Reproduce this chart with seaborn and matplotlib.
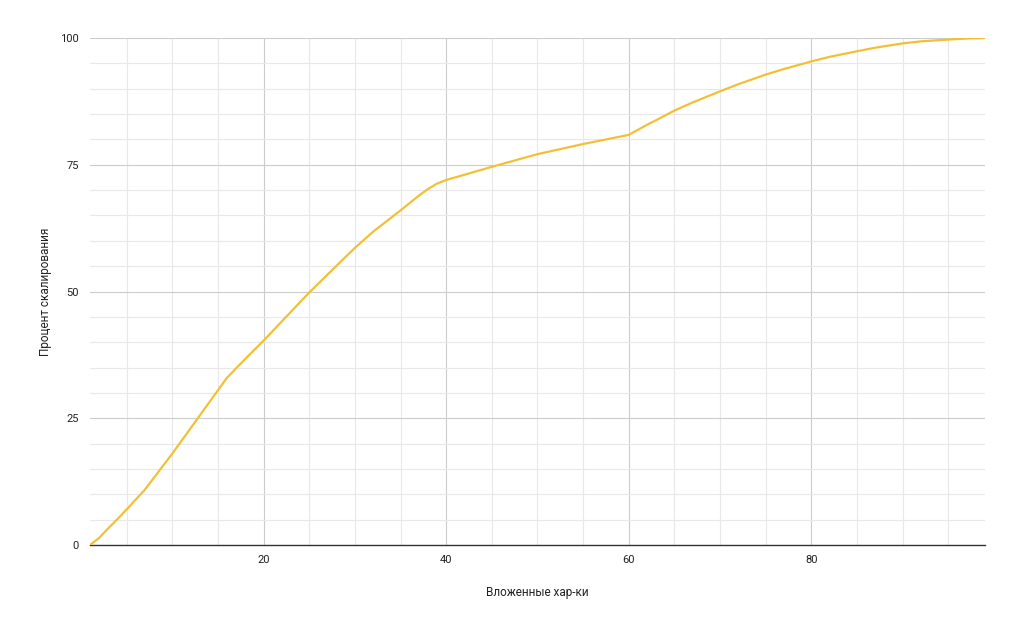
import matplotlib
matplotlib.use('Agg')
import matplotlib.pyplot as plt
import seaborn as sns
import pandas as pd
from matplotlib.ticker import MultipleLocator

# values
features = [1, 2, 3, 4, 5, 7, 10, 13, 15, 16, 18, 20, 25, 28, 30, 32, 35, 37, 38, 39, 40,
            45, 50, 55, 60, 62, 63, 65, 67, 70, 72, 75, 77, 80, 82, 85, 87, 90, 92, 95, 97, 99]
scaling = [0, 1.4, 3.3, 5.1, 7.0, 10.9, 18.0, 25.5, 30.5, 33.0, 36.7, 40.3, 49.8, 55.1,
           58.6, 61.8, 66.0, 68.9, 70.2, 71.3, 72.0, 74.6, 77.1, 79.1, 80.9, 82.9, 83.8,
           85.7, 87.3, 89.5, 90.9, 92.8, 93.9, 95.4, 96.3, 97.4, 98.1, 98.95, 99.35, 99.7,
           99.9, 100]

df = pd.DataFrame({'x': features, 'y': scaling})

sns.set_style('white')
plt.rcParams['font.family'] = ['Roboto', 'DejaVu Sans']

fig = plt.figure(figsize=(10.17, 6.29), dpi=100)
ax = fig.add_axes([0.0885, 0.1335, 0.88, 0.806])

sns.lineplot(data=df, x='x', y='y', ax=ax, color='#F2C037', linewidth=1.6, zorder=3)

ax.set_xlim(1, 99)
ax.set_ylim(0, 100)
ax.xaxis.set_major_locator(MultipleLocator(20))
ax.xaxis.set_minor_locator(MultipleLocator(5))
ax.yaxis.set_major_locator(MultipleLocator(25))
ax.yaxis.set_minor_locator(MultipleLocator(5))
ax.grid(which='major', color='#cccccc', linewidth=0.8)
ax.grid(which='minor', color='#e8e8e8', linewidth=0.8)
ax.set_axisbelow(True)

for s in ['top', 'right', 'left']:
    ax.spines[s].set_visible(False)
ax.spines['bottom'].set_color('#333333')
ax.spines['bottom'].set_linewidth(1.0)

ax.tick_params(which='both', length=0, labelsize=8, labelcolor='#222222')
ax.tick_params(axis='y', pad=8)
ax.tick_params(axis='x', pad=7)

ax.set_xlabel('Вложенные хар-ки', fontsize=8.5, color='#222222', labelpad=15)
ax.set_ylabel('Процент скалирования', fontsize=8.5, color='#222222', labelpad=6)

fig.savefig('out.png', dpi=100)
